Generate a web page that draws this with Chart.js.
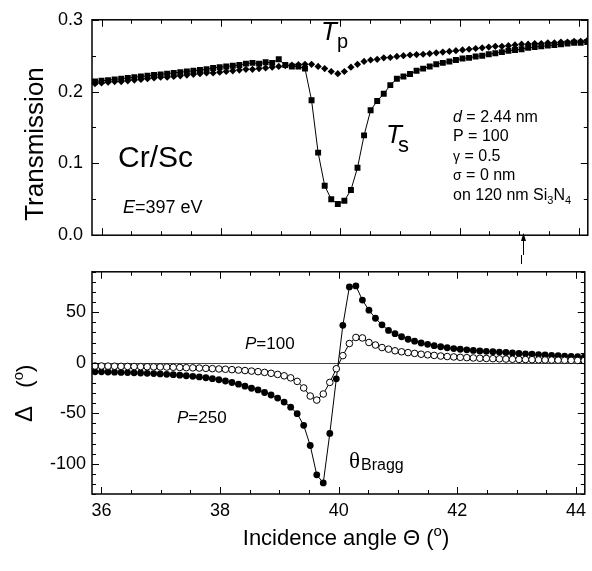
<!DOCTYPE html>
<html>
<head>
<meta charset="utf-8">
<script src="https://cdn.jsdelivr.net/npm/chart.js@4.4.0/dist/chart.umd.min.js"></script>
<style>
  html, body { margin: 0; padding: 0; background: #fff; }
  #wrap { position: relative; width: 592px; height: 571px; }
  #top { position: absolute; left: 0; top: 0; }
  #bot { position: absolute; left: 0; top: 255px; }
</style>
</head>
<body>
<div id="wrap">
  <canvas id="top" width="592" height="255"></canvas>
  <canvas id="bot" width="592" height="316"></canvas>
</div>
<script>
// incidence angle (deg), shared by both panels
const angles = [
  35.89, 36.00, 36.11, 36.22, 36.33, 36.44, 36.55, 36.66, 36.77, 36.88,
  36.99, 37.10, 37.21, 37.32, 37.43, 37.54, 37.65, 37.76, 37.87, 37.98,
  38.09, 38.20, 38.31, 38.42, 38.53, 38.64, 38.75, 38.86, 38.97, 39.08,
  39.19, 39.30, 39.41, 39.52, 39.63, 39.74, 39.85, 39.96, 40.07, 40.18,
  40.29, 40.40, 40.51, 40.62, 40.73, 40.84, 40.95, 41.06, 41.17, 41.28,
  41.39, 41.50, 41.61, 41.72, 41.83, 41.94, 42.05, 42.16, 42.27, 42.38,
  42.49, 42.60, 42.71, 42.82, 42.93, 43.04, 43.15, 43.26, 43.37, 43.48,
  43.59, 43.70, 43.81, 43.92, 44.03, 44.14
];

// Tp (diamonds)
const transP = [
  0.211, 0.212, 0.213, 0.214, 0.214, 0.215, 0.216, 0.217, 0.218, 0.219,
  0.220, 0.220, 0.221, 0.222, 0.223, 0.224, 0.225, 0.226, 0.226, 0.227,
  0.228, 0.229, 0.230, 0.231, 0.231, 0.232, 0.233, 0.234, 0.235, 0.236,
  0.237, 0.2375, 0.238, 0.238, 0.235, 0.232, 0.228, 0.225, 0.228, 0.234,
  0.238, 0.242, 0.244, 0.245, 0.247, 0.2475, 0.249, 0.250, 0.251, 0.2515,
  0.252, 0.253, 0.254, 0.255, 0.256, 0.257, 0.258, 0.259, 0.260, 0.261,
  0.262, 0.263, 0.263, 0.264, 0.265, 0.266, 0.266, 0.267, 0.267, 0.268,
  0.268, 0.269, 0.269, 0.270, 0.270, 0.271
];

// Ts (squares)
const transS = [
  0.214, 0.215, 0.216, 0.217, 0.218, 0.219, 0.220, 0.221, 0.222, 0.223,
  0.224, 0.225, 0.226, 0.227, 0.228, 0.229, 0.230, 0.231, 0.233, 0.234,
  0.235, 0.236, 0.237, 0.239, 0.240, 0.239, 0.241, 0.240, 0.245, 0.237,
  0.235, 0.235, 0.232, 0.188, 0.115, 0.069, 0.050, 0.0435, 0.048, 0.063,
  0.094, 0.139, 0.174, 0.187, 0.197, 0.209, 0.218, 0.221, 0.2245, 0.229,
  0.232, 0.235, 0.238, 0.240, 0.242, 0.244, 0.246, 0.247, 0.249, 0.250,
  0.252, 0.2535, 0.255, 0.257, 0.258, 0.259, 0.261, 0.262, 0.263, 0.264,
  0.265, 0.266, 0.267, 0.268, 0.268, 0.269
];

// phase difference, P=100 (open circles)
const deltaP100 = [
  -3.3, -3.3, -3.4, -3.5, -3.6, -3.7, -3.8, -3.9, -4.0, -4.1,
  -4.2, -4.3, -4.5, -4.7, -4.9, -5.1, -5.3, -5.6, -5.9, -6.2,
  -6.5, -6.9, -7.3, -7.8, -8.3, -8.9, -9.6, -10.5, -11.6, -13.0,
  -15.0, -18.5, -25, -33, -37, -31, -19.5, -6, 7, 19,
  25, 24.5, 20, 17.5, 15, 13.4, 11.8, 10.8, 10.0, 9.2,
  8.4, 7.8, 7.2, 6.6, 6.1, 5.7, 5.3, 5.0, 4.7, 4.4,
  4.2, 4.0, 3.8, 3.6, 3.4, 3.2, 3.1, 3.0, 2.8, 2.7,
  2.6, 2.5, 2.4, 2.3, 2.2, 2.1
];

// phase difference, P=250 (filled circles)
const deltaP250 = [
  -9.0, -9.0, -9.2, -9.4, -9.6, -9.8, -10.0, -10.2, -10.5, -10.8,
  -11.1, -11.5, -11.9, -12.4, -12.9, -13.5, -14.1, -14.9, -15.8, -16.9,
  -18.1, -19.6, -21.3, -23.2, -25.3, -27.0, -29.5, -32.0, -35.0, -39.0,
  -44.0, -50.5, -62, -82, -111, -119, -70, -16, 37, 75,
  76, 62, 52, 44, 37.5, 32, 28.7, 25.7, 23.2, 21.3,
  19.5, 18.2, 16.9, 15.8, 14.8, 14.0, 13.3, 12.7, 12.2, 11.7,
  11.3, 10.9, 10.5, 10.1, 9.6, 9.2, 8.8, 8.4, 8.0, 7.6,
  7.2, 6.9, 6.6, 6.2, 5.9, 5.5
];

const xTicks = [36, 38, 40, 42, 44];
const transTicks = [0, 0.1, 0.2, 0.3];
const deltaTicks = [-100, -50, 0, 50];
const arrowAngle = 43.07;

const FONT = '"Liberation Sans", Arial, sans-serif';
const pts = (ys) => angles.map((a, i) => ({ x: a, y: ys[i] }));

function rich(ctx, x, y, parts, align) {
  let w = 0;
  parts.forEach(p => { ctx.font = p[1] + ' ' + FONT; w += ctx.measureText(p[0]).width; });
  let cx = align === 'center' ? x - w / 2 : x;
  parts.forEach(p => {
    ctx.font = p[1] + ' ' + FONT;
    ctx.fillText(p[0], cx, y + (p[2] || 0));
    cx += ctx.measureText(p[0]).width;
  });
}

// box + inward ticks on all four sides
function framePlugin(yMinorStep, yMajorStep) {
  return {
    id: 'frame',
    afterDatasetsDraw(chart) {
      const { ctx, chartArea: a, scales } = chart;
      const xs = scales.x, ys = scales.y;
      ctx.save();
      ctx.strokeStyle = '#000';
      ctx.lineWidth = 1;
      ctx.beginPath();
      for (let v = 36; v <= 44.001; v += 0.5) {
        const px = Math.round(xs.getPixelForValue(v)) + 0.5;
        const len = Math.abs(v % 2) < 0.01 ? 7 : 4;
        ctx.moveTo(px, a.bottom); ctx.lineTo(px, a.bottom - len);
        ctx.moveTo(px, a.top); ctx.lineTo(px, a.top + len);
      }
      const yLo = ys.min, yHi = ys.max;
      const start = Math.ceil(yLo / yMinorStep - 1e-6);
      for (let k = start; k * yMinorStep <= yHi + 1e-9; k++) {
        const v = k * yMinorStep;
        const py = Math.round(ys.getPixelForValue(v)) + 0.5;
        const r = v / yMajorStep;
        const len = Math.abs(r - Math.round(r)) < 1e-6 ? 7 : 4;
        ctx.moveTo(a.left, py); ctx.lineTo(a.left + len, py);
        ctx.moveTo(a.right, py); ctx.lineTo(a.right - len, py);
      }
      ctx.stroke();
      ctx.lineWidth = 1.5;
      ctx.strokeRect(a.left, a.top, a.right - a.left, a.bottom - a.top);
      ctx.restore();
    }
  };
}

const topNotes = {
  id: 'topNotes',
  afterDraw(chart) {
    const { ctx, scales } = chart;
    ctx.save();
    ctx.fillStyle = '#000';
    ctx.textBaseline = 'alphabetic';
    ctx.textAlign = 'left';
    rich(ctx, 118, 167, [['Cr/Sc', '30px']]);
    rich(ctx, 123, 213, [['E', 'italic 18px'], ['=397 eV', '18px']]);
    rich(ctx, 321, 40, [['T', 'italic 26px']]);
    rich(ctx, 337, 47.5, [['p', '20px']]);
    rich(ctx, 386, 143, [['T', 'italic 26px']]);
    rich(ctx, 398, 151.5, [['s', '22px']]);
    rich(ctx, 453, 121.5, [['d', 'italic 16px'], [' = 2.44 nm', '16px']]);
    rich(ctx, 453, 141, [['P = 100', '16px']]);
    rich(ctx, 453, 160.5, [['γ', '14px'], [' = 0.5', '16px']]);
    rich(ctx, 453, 180, [['σ', '14px'], [' = 0 nm', '16px']]);
    rich(ctx, 453, 199.5, [['on 120 nm Si', '16px'], ['3', '11px', 4], ['N', '16px'], ['4', '11px', 4]]);
    // y title
    ctx.save();
    ctx.translate(43, 144);
    ctx.rotate(-Math.PI / 2);
    ctx.textAlign = 'center';
    ctx.font = '26px ' + FONT;
    ctx.fillText('Transmission', 0, 0);
    ctx.restore();
    // arrow marking an angle
    const ax = Math.round(scales.x.getPixelForValue(arrowAngle)) + 0.5;
    ctx.strokeStyle = '#000';
    ctx.lineWidth = 1;
    ctx.beginPath();
    ctx.moveTo(ax, 238); ctx.lineTo(ax, 255);
    ctx.stroke();
    ctx.beginPath();
    ctx.moveTo(ax, 233); ctx.lineTo(ax - 2.5, 241); ctx.lineTo(ax + 2.5, 241);
    ctx.closePath(); ctx.fill();
    ctx.restore();
  }
};

const botNotes = {
  id: 'botNotes',
  beforeDatasetsDraw(chart) {
    const { ctx, chartArea: a, scales } = chart;
    const py = Math.round(scales.y.getPixelForValue(0)) + 0.5;
    ctx.save();
    ctx.strokeStyle = '#444';
    ctx.lineWidth = 1;
    ctx.beginPath();
    ctx.moveTo(a.left, py); ctx.lineTo(a.right, py);
    ctx.stroke();
    ctx.restore();
  },
  afterDraw(chart) {
    const { ctx, scales } = chart;
    ctx.save();
    ctx.fillStyle = '#000';
    ctx.textBaseline = 'alphabetic';
    ctx.textAlign = 'left';
    rich(ctx, 245, 94, [['P', 'italic 17px'], ['=100', '17px']]);
    rich(ctx, 177, 168, [['P', 'italic 17px'], ['=250', '17px']]);
    ctx.font = '23px "Liberation Serif", serif';
    ctx.fillText('θ', 349, 213);
    rich(ctx, 361, 215, [['Bragg', '16px']]);
    rich(ctx, 346, 290, [['Incidence angle Θ (', '22px'], ['o', '15px', -9], [')', '22px']], 'center');
    ctx.save();
    ctx.translate(32, 167);
    ctx.rotate(-Math.PI / 2);
    rich(ctx, 0, 0, [['Δ', '24px'], ['   (', '22px'], ['o', '15px', -9], [')', '22px']]);
    ctx.restore();
    const ax = Math.round(scales.x.getPixelForValue(arrowAngle)) + 0.5;
    ctx.strokeStyle = '#000';
    ctx.lineWidth = 1;
    ctx.beginPath();
    ctx.moveTo(ax, 0); ctx.lineTo(ax, 9);
    ctx.stroke();
    ctx.restore();
  }
};

const xScale = {
  type: 'linear', min: 35.84, max: 44.15
};

new Chart(document.getElementById('top'), {
  type: 'line',
  data: {
    datasets: [
      {
        label: 'Tp', data: pts(transP), showLine: false,
        pointStyle: 'rectRot', pointRadius: 3.6,
        pointBackgroundColor: '#000', pointBorderColor: '#000', pointBorderWidth: 0
      },
      {
        label: 'Ts', data: pts(transS), borderColor: '#000', borderWidth: 1, tension: 0,
        pointStyle: 'rect', pointRadius: 4.2,
        pointBackgroundColor: '#000', pointBorderColor: '#000', pointBorderWidth: 0
      }
    ]
  },
  options: {
    responsive: false,
    animation: false,
    layout: { padding: { top: 15, right: 2, bottom: 10, left: 0 } },
    plugins: { legend: { display: false }, tooltip: { enabled: false } },
    scales: {
      x: Object.assign({}, xScale, { display: false }),
      y: {
        min: 0, max: 0.3,
        afterFit: s => { s.width = 92; },
        afterBuildTicks: s => { s.ticks = transTicks.map(v => ({ value: v })); },
        grid: { display: false, drawTicks: false },
        border: { display: false },
        ticks: { padding: 9, color: '#000', font: { family: FONT, size: 18 }, callback: v => v.toFixed(1) }
      }
    }
  },
  plugins: [framePlugin(0.05, 0.1), topNotes]
});

new Chart(document.getElementById('bot'), {
  type: 'line',
  data: {
    datasets: [
      {
        label: 'P=100', data: pts(deltaP100), borderColor: '#000', borderWidth: 1, tension: 0,
        pointStyle: 'circle', pointRadius: 3.3,
        pointBackgroundColor: '#fff', pointBorderColor: '#000', pointBorderWidth: 1
      },
      {
        label: 'P=250', data: pts(deltaP250), borderColor: '#000', borderWidth: 1, tension: 0,
        pointStyle: 'circle', pointRadius: 3.4,
        pointBackgroundColor: '#000', pointBorderColor: '#000', pointBorderWidth: 0
      }
    ]
  },
  options: {
    responsive: false,
    animation: false,
    layout: { padding: { top: 9, right: 2, bottom: 0, left: 0 } },
    plugins: { legend: { display: false }, tooltip: { enabled: false } },
    scales: {
      x: Object.assign({}, xScale, {
        afterFit: s => { s.height = 77; },
        afterBuildTicks: s => { s.ticks = xTicks.map(v => ({ value: v })); },
        grid: { display: false, drawTicks: false },
        border: { display: false },
        ticks: { padding: 6, maxRotation: 0, color: '#000', font: { family: FONT, size: 18 } }
      }),
      y: {
        min: -130, max: 90,
        afterFit: s => { s.width = 92; },
        afterBuildTicks: s => { s.ticks = deltaTicks.map(v => ({ value: v })); },
        grid: { display: false, drawTicks: false },
        border: { display: false },
        ticks: { padding: 6, color: '#000', font: { family: FONT, size: 18 } }
      }
    }
  },
  plugins: [framePlugin(10, 50), botNotes]
});
</script>
</body>
</html>
